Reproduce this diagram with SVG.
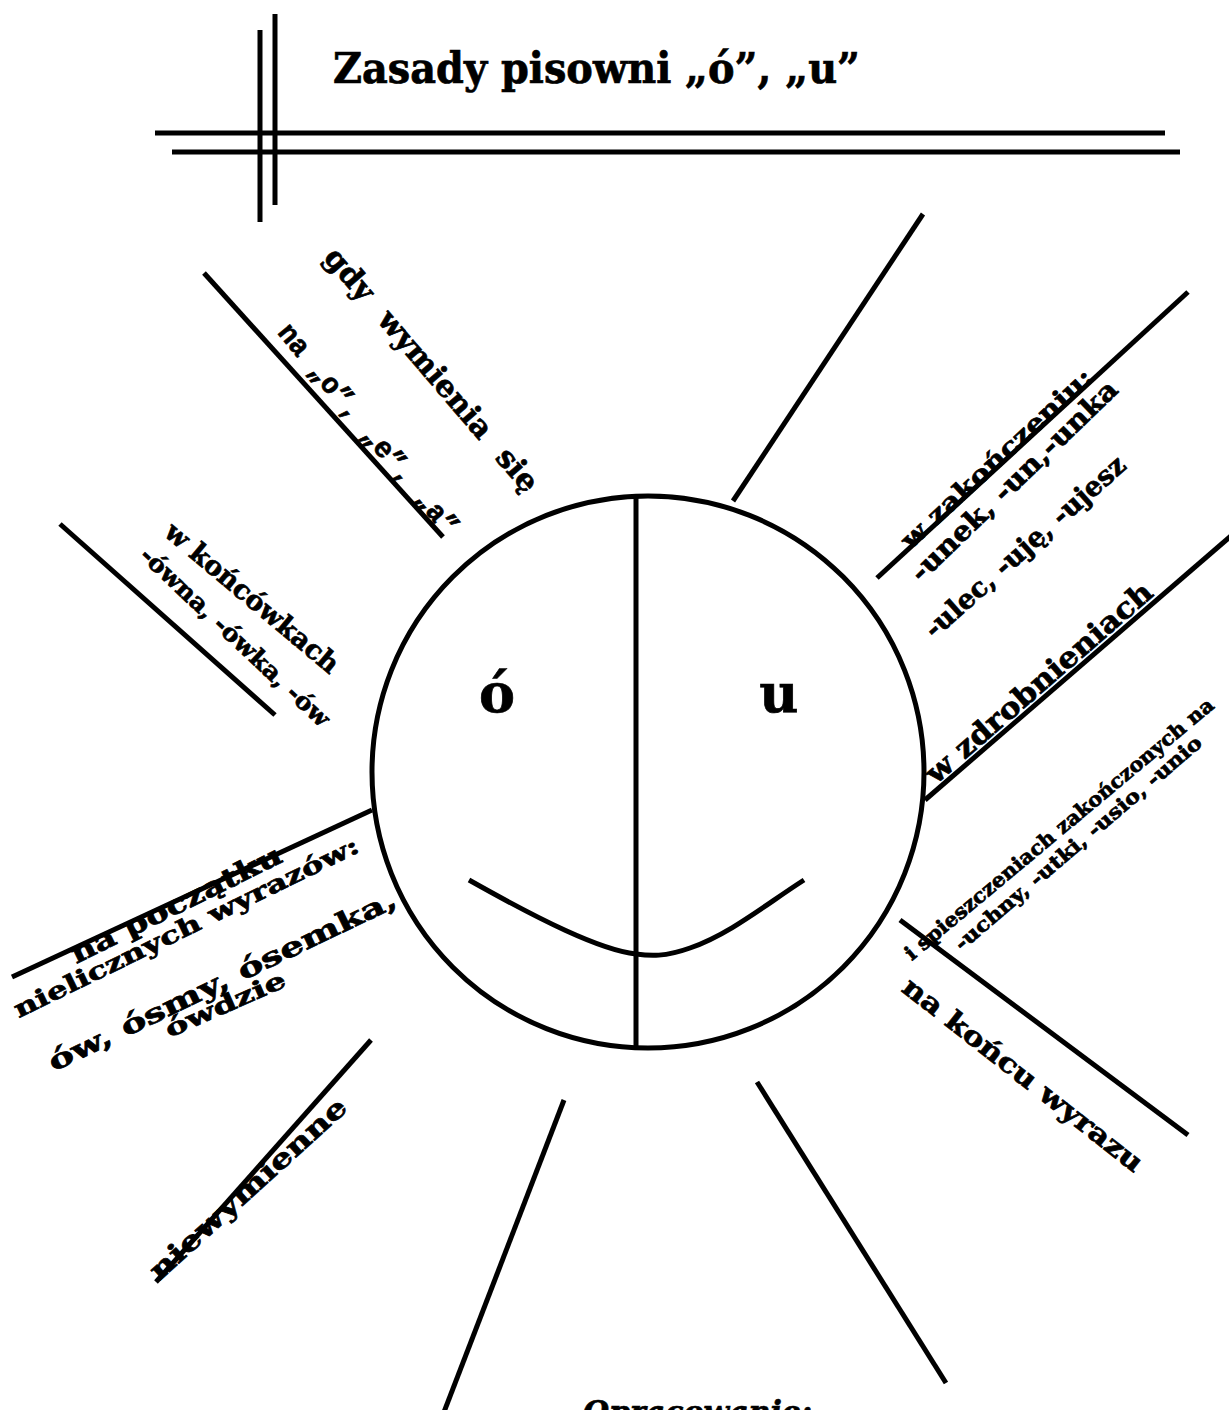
<svg xmlns="http://www.w3.org/2000/svg" width="1229" height="1410" viewBox="0 0 1229 1410">
<style>
.ln{stroke:#000;stroke-width:5;fill:none;stroke-linecap:butt}
.t{font-family:"DejaVu Serif","Liberation Serif",serif;font-weight:bold;fill:#000;stroke:#000;stroke-width:0.7}
.m{font-family:"Liberation Mono","DejaVu Sans Mono",monospace;font-weight:bold;fill:#000;stroke:#000;stroke-width:0.7}
.lab{text-anchor:middle;dominant-baseline:middle}
</style>
<rect width="1229" height="1410" fill="#fff"/>
<g id="title">
<line class="ln" x1="260" y1="30" x2="260" y2="222"/>
<line class="ln" x1="275" y1="14" x2="275" y2="205"/>
<line class="ln" x1="155" y1="133" x2="1165" y2="133"/>
<line class="ln" x1="172" y1="152" x2="1180" y2="152"/>
<text class="t" x="333" y="83" font-size="42" stroke-width="0.9" textLength="527" lengthAdjust="spacingAndGlyphs">Zasady pisowni „ó”, „u”</text>
</g>
<g id="face">
<circle class="ln" cx="648" cy="772" r="276" stroke-width="4.5"/>
<line class="ln" x1="636" y1="496" x2="636" y2="1048" stroke-width="4.5"/>
<path class="ln" stroke-width="4.5" d="M469,880 C540,920 600,950 636,954 C650,956 665,957 690,948 C730,934 765,905 804,880"/>
<text class="t" x="497" y="712" font-size="54" stroke-width="1" text-anchor="middle">ó</text>
<text class="t" x="779" y="712" font-size="54" stroke-width="1" text-anchor="middle">u</text>
</g>
<g id="connectors">
<line class="ln" x1="733" y1="501" x2="923" y2="214"/>
<line class="ln" x1="877" y1="578" x2="1188" y2="292"/>
<line class="ln" x1="925" y1="800" x2="1232" y2="535"/>
<line class="ln" x1="900" y1="920" x2="1188" y2="1135"/>
<line class="ln" x1="757" y1="1082" x2="946" y2="1383"/>
<line class="ln" x1="564" y1="1100" x2="444" y2="1412"/>
<line class="ln" x1="371" y1="1040" x2="156" y2="1282"/>
<line class="ln" x1="12" y1="977" x2="372" y2="810"/>
<line class="ln" x1="60" y1="524" x2="275" y2="715"/>
<line class="ln" x1="204" y1="273" x2="443" y2="537"/>
</g>
<g id="label-gdy">
<text class="t lab" transform="translate(430,371) rotate(49.4)" font-size="30" textLength="311" lengthAdjust="spacingAndGlyphs" word-spacing="12">gdy wymienia się</text>
</g>
<g id="label-na-oea">
<text class="m lab" transform="translate(367,430) rotate(50.4)" font-size="29" textLength="265" lengthAdjust="spacingAndGlyphs">na „o”, „e”, „a”</text>
</g>
<g id="label-koncowkach">
<text class="t lab" transform="translate(251,599) rotate(40)" font-size="27" textLength="218" lengthAdjust="spacingAndGlyphs">w końcówkach</text>
<text class="t lab" transform="translate(234,638) rotate(43.2)" font-size="24" textLength="250" lengthAdjust="spacingAndGlyphs">-ówna, -ówka, -ów</text>
</g>
<g id="label-poczatku">
<text class="t lab" transform="translate(177,906) rotate(-26.3)" font-size="27" textLength="232" lengthAdjust="spacingAndGlyphs">na początku</text>
<text class="t lab" transform="translate(187,929) rotate(-26)" font-size="24" textLength="381" lengthAdjust="spacingAndGlyphs">nielicznych wyrazów:</text>
<text class="t lab" transform="translate(223,982) rotate(-25.7)" font-size="27" textLength="383" lengthAdjust="spacingAndGlyphs">ów, ósmy, ósemka,</text>
<text class="t lab" transform="translate(226,1006) rotate(-23.8)" font-size="24" textLength="129" lengthAdjust="spacingAndGlyphs">ówdzie</text>
</g>
<g id="label-niewymienne">
<text class="t lab" transform="translate(249,1190) rotate(-42.2)" font-size="27" textLength="256" lengthAdjust="spacingAndGlyphs">niewymienne</text>
</g>
<g id="label-zakonczeniu">
<text class="t lab" transform="translate(998,460) rotate(-42.9)" font-size="25" textLength="251" lengthAdjust="spacingAndGlyphs">w zakończeniu:</text>
<text class="t lab" transform="translate(1015,482) rotate(-44)" font-size="27" textLength="276" lengthAdjust="spacingAndGlyphs">-unek, -un,-unka</text>
<text class="t lab" transform="translate(1026,548) rotate(-41.6)" font-size="27" textLength="259" lengthAdjust="spacingAndGlyphs">-ulec, -uję, -ujesz</text>
</g>
<g id="label-zdrobnieniach">
<text class="t lab" transform="translate(1040,684) rotate(-40.9)" font-size="29" textLength="290" lengthAdjust="spacingAndGlyphs">w zdrobnieniach</text>
<text class="t lab" transform="translate(1060,830) rotate(-39.9)" font-size="20" textLength="396" lengthAdjust="spacingAndGlyphs">i spieszczeniach zakończonych na</text>
<text class="t lab" transform="translate(1079,844) rotate(-40.5)" font-size="20" textLength="318" lengthAdjust="spacingAndGlyphs">-uchny, -utki, -usio, -unio</text>
</g>
<g id="label-koncu">
<text class="t lab" transform="translate(1022,1076) rotate(38)" font-size="27" textLength="297" lengthAdjust="spacingAndGlyphs">na końcu wyrazu</text>
</g>
<g id="label-opracowanie">
<text class="t" x="583" y="1423" font-size="31" font-style="italic" textLength="229" lengthAdjust="spacingAndGlyphs">Opracowanie:</text>
</g>
</svg>
